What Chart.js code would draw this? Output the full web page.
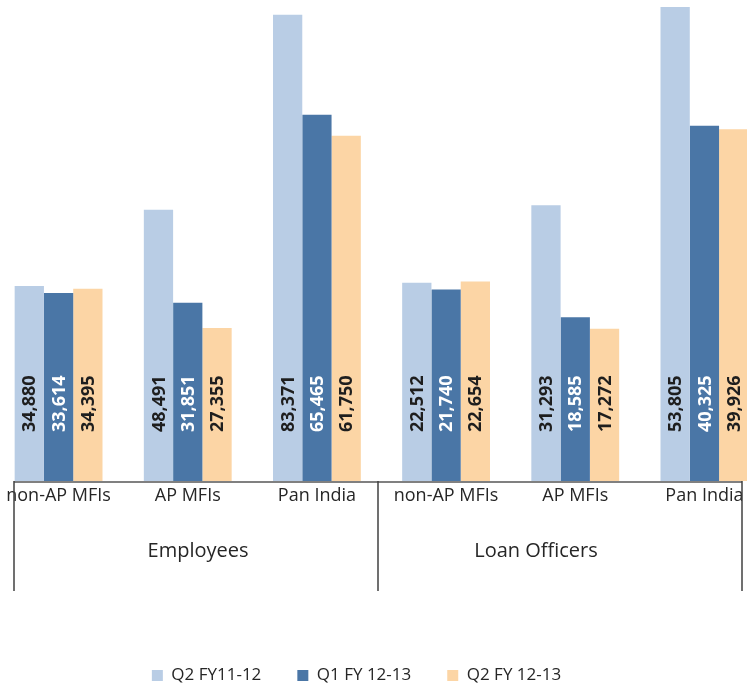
<!DOCTYPE html>
<html>
<head>
<meta charset="utf-8">
<script src="https://cdn.jsdelivr.net/npm/chart.js@4.4.1/dist/chart.umd.min.js"></script>
<style>
  html, body { margin: 0; padding: 0; background: #fff; overflow: hidden; width: 747px; height: 683px; position: relative; }
  #wrap { position: absolute; left: -57px; top: 0; width: 826px; height: 694px; }
</style>
</head>
<body>
<div id="wrap"><canvas id="c" width="826" height="694"></canvas></div>
<script>
// Staff of microfinance institutions, by segment
const categories = ['non-AP MFIs', 'AP MFIs', 'Pan India'];
const groups = ['Employees', 'Loan Officers'];
const seriesNames = ['Q2 FY11-12', 'Q1 FY 12-13', 'Q2 FY 12-13'];

const employeesQ2FY1112 = [34880, 48491, 83371];
const employeesQ1FY1213 = [33614, 31851, 65465];
const employeesQ2FY1213 = [34395, 27355, 61750];

const loanOfficersQ2FY1112 = [22512, 31293, 53805];
const loanOfficersQ1FY1213 = [21740, 18585, 40325];
const loanOfficersQ2FY1213 = [22654, 17272, 39926];

// styling
const seriesColors = ['#B9CDE5', '#4A76A6', '#FCD5A5'];
const valueTextColors = ['#1e1e1e', '#ffffff', '#1e1e1e'];
const FONT = '"Open Sans", "Noto Sans", sans-serif';

const employeeSeries = [employeesQ2FY1112, employeesQ1FY1213, employeesQ2FY1213];
const loanSeries = [loanOfficersQ2FY1112, loanOfficersQ1FY1213, loanOfficersQ2FY1213];
const blank = categories.map(() => null);

const xLabels = groups.flatMap(() => categories);

const datasets = seriesNames.map((name, i) => ({
  label: name,
  data: [...employeeSeries[i], ...blank],
  yAxisID: 'yEmp',
  backgroundColor: seriesColors[i]
})).concat(seriesNames.map((name, i) => ({
  label: name,
  data: [...blank, ...loanSeries[i]],
  yAxisID: 'yLoan',
  backgroundColor: seriesColors[i]
})));

// vertical value labels, set at a fixed distance above each bar's base
const valueLabels = {
  id: 'valueLabels',
  afterDatasetsDraw(chart) {
    const ctx = chart.ctx;
    chart.data.datasets.forEach((ds, di) => {
      const meta = chart.getDatasetMeta(di);
      meta.data.forEach((bar, i) => {
        const v = ds.data[i];
        if (v == null) return;
        ctx.save();
        ctx.translate(bar.x, bar.base - 49);
        ctx.rotate(-Math.PI / 2);
        ctx.font = 'bold 18px ' + FONT;
        ctx.fillStyle = valueTextColors[di % 3];
        ctx.textAlign = 'left';
        ctx.textBaseline = 'middle';
        ctx.fillText(v.toLocaleString('en-US'), 0, 1);
        ctx.restore();
      });
    });
  }
};

// category frame: axis line, group dividers and group titles
const groupFrame = {
  id: 'groupFrame',
  afterLayout(chart) {
    // the legend row sits a little left of the plot centre
    chart.legend.left -= 25;
    chart.legend.right -= 25;
  },
  afterDraw(chart) {
    const ctx = chart.ctx;
    const a = chart.chartArea;
    const y0 = a.bottom;
    const y1 = y0 + 110;
    const left = a.left + 20;
    const right = a.right - 27;
    const mid = (left + right) / 2;
    ctx.save();
    ctx.strokeStyle = '#808080';
    ctx.lineWidth = 2;
    ctx.beginPath();
    ctx.moveTo(left, y0 + 1);
    ctx.lineTo(right, y0 + 1);
    ctx.stroke();
    ctx.strokeStyle = '#404040';
    ctx.lineWidth = 1.5;
    [left, mid, right].forEach(x => {
      ctx.beginPath();
      ctx.moveTo(x, y0);
      ctx.lineTo(x, y1);
      ctx.stroke();
    });
    ctx.font = '20px ' + FONT;
    ctx.fillStyle = '#262626';
    ctx.textAlign = 'center';
    ctx.textBaseline = 'middle';
    ctx.fillText(groups[0], (left + mid) / 2 + 2, y0 + 70);
    ctx.fillText(groups[1], mid + 158, y0 + 70);
    ctx.restore();
  }
};

new Chart(document.getElementById('c'), {
  type: 'bar',
  data: { labels: xLabels, datasets },
  options: {
    responsive: false,
    animation: false,
    devicePixelRatio: 1,
    layout: { padding: { left: 51, right: 0, top: 0, bottom: 0 } },
    datasets: { bar: { categoryPercentage: 0.68, barPercentage: 1, skipNull: true, borderWidth: 0 } },
    scales: {
      x: {
        grid: { display: false, drawTicks: false },
        border: { display: false },
        ticks: { font: { family: FONT, size: 18 }, color: '#262626', padding: 4, maxRotation: 0, autoSkip: false },
        afterFit(s) { s.height = 150; }
      },
      yEmp: { display: false, min: 0, max: 86000 },
      yLoan: { display: false, min: 0, max: 54600 }
    },
    plugins: {
      legend: {
        position: 'bottom',
        labels: {
          boxWidth: 11, boxHeight: 11, padding: 36,
          font: { family: FONT, size: 17 }, color: '#262626',
          filter: item => item.datasetIndex < 3
        }
      },
      tooltip: { enabled: false }
    }
  },
  plugins: [valueLabels, groupFrame]
});
</script>
</body>
</html>
